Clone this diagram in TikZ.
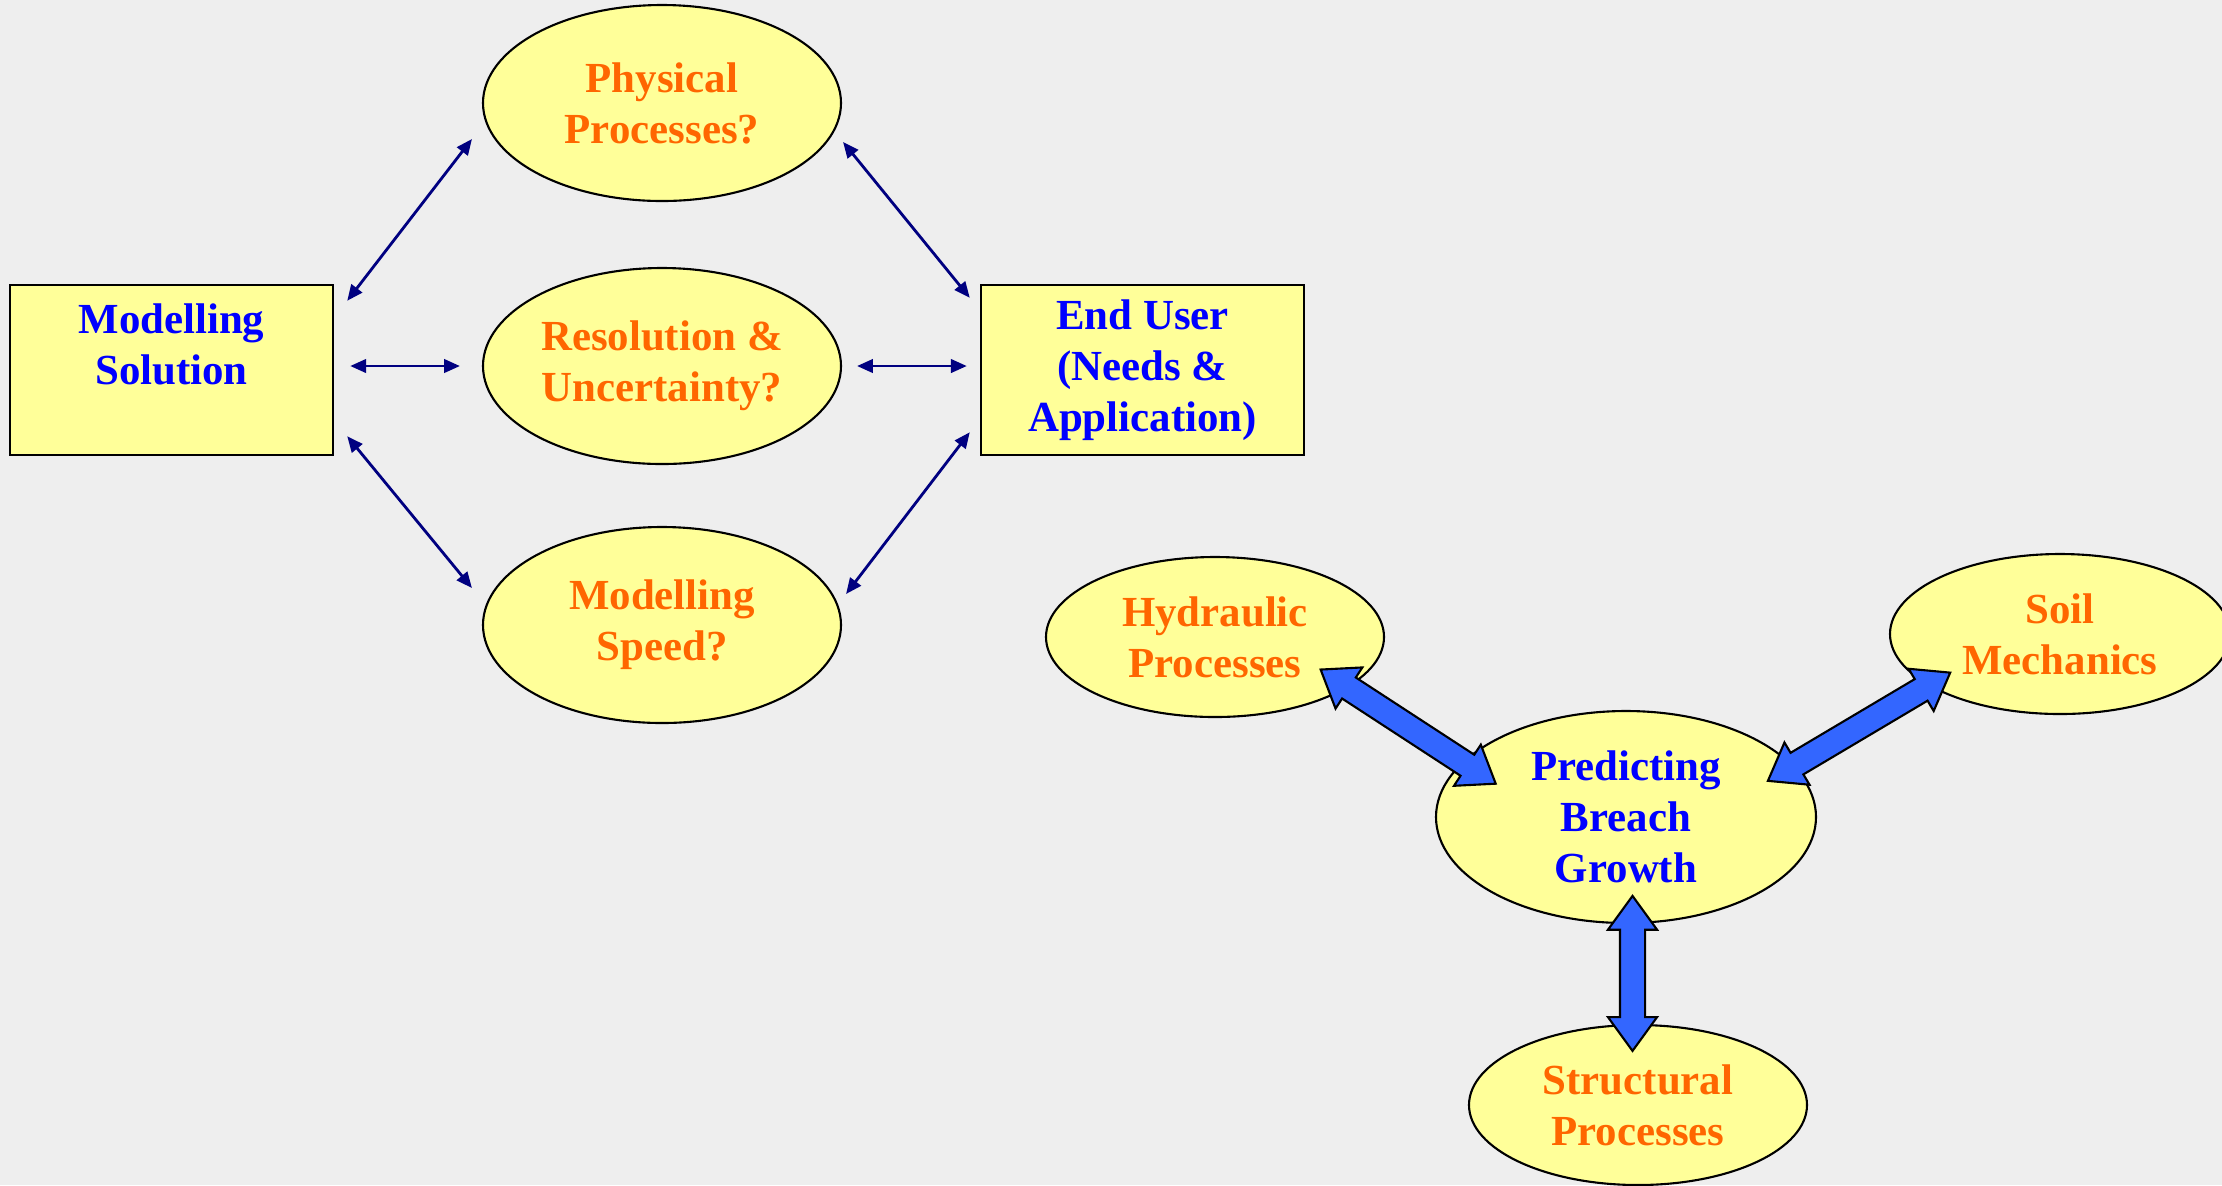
\documentclass[tikz,border=0pt]{standalone}
\usepackage{fontspec}
\setmainfont{Liberation Serif}
\usetikzlibrary{shapes.geometric,shapes.arrows,arrows.meta,calc}
\definecolor{bgrey}{HTML}{EEEEEE}
\definecolor{pale}{HTML}{FFFF99}
\definecolor{ink}{HTML}{0000FF}
\definecolor{rust}{HTML}{FF6600}
\definecolor{navy}{HTML}{000080}
\definecolor{fatblue}{HTML}{3366FF}
\tikzset{
  lbl/.style={font=\fontsize{12.2}{14.5}\selectfont\bfseries, align=center},
  box/.style={lbl, draw, line width=0.7pt, fill=pale, text=ink, minimum width=3.23cm, minimum height=1.70cm, inner sep=0pt},
  oval/.style={lbl, ellipse, draw, line width=0.6pt, fill=pale, text=rust, inner sep=0pt},
  link/.style={navy, line width=0.8pt, {Triangle[length=4.5pt,width=3.8pt]}-{Triangle[length=4.5pt,width=3.8pt]}},
  fat/.style={double arrow, draw, line width=0.6pt, fill=fatblue, inner sep=0pt, text height=0.23cm, text depth=0pt, minimum width=0.47cm, double arrow head extend=0.12cm, double arrow tip angle=72}
}
\begin{document}
\begin{tikzpicture}
        \fill[bgrey] (0,0) rectangle (22.22,-11.85);
        \useasboundingbox (0,0) rectangle (22.22,-11.85);

        % left: modelling choices
        \node[box] (ms) at (1.715,-3.70) {Modelling\\Solution\\\mbox{}};
        \node[box] (eu) at (11.425,-3.70) {End User\\(Needs \&\\Application)};
        \node[oval, minimum width=3.58cm, minimum height=1.96cm] (pp) at (6.62,-1.03) {Physical\\Processes?};
        \node[oval, minimum width=3.58cm, minimum height=1.96cm] (rr) at (6.62,-3.66) {Resolution \&\\Uncertainty?};
        \node[oval, minimum width=3.58cm, minimum height=1.96cm] (spd) at (6.62,-6.25) {Modelling\\Speed?};

        \draw[link] ([shift={(0.13,-0.17)}]ms.north east) -- ([shift={(-0.10,-0.36)}]pp.west);
        \draw[link] ([xshift=1.6mm]ms.east |- rr.west) -- ([xshift=-2.2mm]rr.west);
        \draw[link] ([shift={(0.13,0.20)}]ms.south east) -- ([shift={(-0.10,0.37)}]spd.west);
        \draw[link] ([shift={(0.01,-0.39)}]pp.east) -- ([shift={(-0.10,-0.14)}]eu.north west);
        \draw[link] ([xshift=1.5mm]rr.east) -- ([xshift=-1.3mm]eu.west |- rr.east);
        \draw[link] ([shift={(0.04,0.31)}]spd.east) -- ([shift={(-0.10,0.24)}]eu.south west);

        % right: breach growth
        \node[oval, minimum width=3.38cm, minimum height=1.60cm] (hp) at (12.15,-6.37) {Hydraulic\\Processes};
        \node[oval, minimum width=3.40cm, minimum height=1.60cm] (sm) at (20.60,-6.34) {Soil\\Mechanics};
        \node[oval, text=ink, minimum width=3.80cm, minimum height=2.12cm] (pbg) at (16.26,-8.17) {Predicting\\Breach\\Growth};
        \node[oval, minimum width=3.38cm, minimum height=1.60cm] (sp) at (16.38,-11.05) {Structural\\Processes};

        \node[fat, minimum height=2.09cm, rotate=-33.1] (ha) at ($(hp)!0.47!(pbg)+(0,-0.05)$) {};
        \node[fat, minimum height=2.12cm, rotate=30.7] (sa) at ($(pbg)!0.537!(sm)+(0,-0.08)$) {};
        \node[fat, minimum height=1.55cm, rotate=90] (ga) at ($(pbg)!0.543!(sp)$) {};
\end{tikzpicture}
\end{document}
